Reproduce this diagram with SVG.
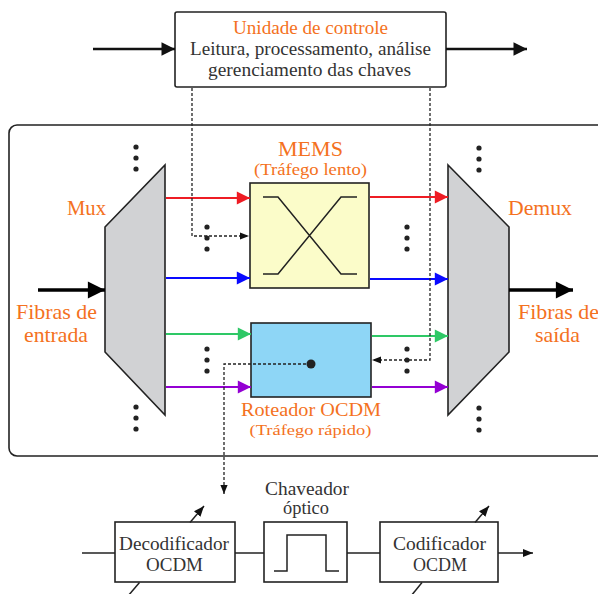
<svg xmlns="http://www.w3.org/2000/svg" width="598" height="594" viewBox="0 0 598 594" font-family="'Liberation Serif', 'DejaVu Serif', serif">
<defs>
<style>
text{font-family:'Liberation Serif','DejaVu Serif',serif;text-anchor:middle}
.or{fill:#f47121}
.dk{fill:#333}
.box{stroke:#222;stroke-width:1.6}
.dot{stroke:#222;stroke-width:1.3;stroke-dasharray:3,2;fill:none}
.ln{stroke:#222;stroke-width:1.5;fill:none}
</style>
<marker id="aBig" viewBox="0 0 10 10" refX="10" refY="5" markerWidth="6.2" markerHeight="4.9" markerUnits="strokeWidth" orient="auto"><path d="M0,0 L10,5 L0,10 z" fill="#000"/></marker>
<marker id="aTop" viewBox="0 0 10 10" refX="10" refY="5" markerWidth="6" markerHeight="5.2" markerUnits="strokeWidth" orient="auto"><path d="M0,0 L10,5 L0,10 z" fill="#111"/></marker>
<marker id="aR" viewBox="0 0 10 10" refX="10" refY="5" markerWidth="7" markerHeight="6" markerUnits="strokeWidth" orient="auto"><path d="M0,0 L10,5 L0,10 z" fill="#ee1c24"/></marker>
<marker id="aB" viewBox="0 0 10 10" refX="10" refY="5" markerWidth="7" markerHeight="6" markerUnits="strokeWidth" orient="auto"><path d="M0,0 L10,5 L0,10 z" fill="#0a0aff"/></marker>
<marker id="aG" viewBox="0 0 10 10" refX="10" refY="5" markerWidth="7" markerHeight="6" markerUnits="strokeWidth" orient="auto"><path d="M0,0 L10,5 L0,10 z" fill="#2ec866"/></marker>
<marker id="aP" viewBox="0 0 10 10" refX="10" refY="5" markerWidth="7" markerHeight="6" markerUnits="strokeWidth" orient="auto"><path d="M0,0 L10,5 L0,10 z" fill="#9400d3"/></marker>
<marker id="aS" viewBox="0 0 10 10" refX="10" refY="5" markerWidth="7" markerHeight="7" markerUnits="strokeWidth" orient="auto"><path d="M0,1 L10,5 L0,9 z" fill="#111"/></marker>
</defs>

<g id="container"><rect x="9" y="125" width="600" height="331" rx="8" fill="#fff" stroke="#222" stroke-width="1.6"/></g>

<g id="control">
<rect class="box" x="175" y="12" width="271" height="75" rx="2" fill="#fff"/>
<text class="or" x="310.5" y="34" font-size="18.5" textLength="155" lengthAdjust="spacingAndGlyphs">Unidade de controle</text>
<text class="dk" x="310.5" y="55" font-size="18.5" textLength="241" lengthAdjust="spacingAndGlyphs">Leitura, processamento, análise</text>
<text class="dk" x="309.5" y="76" font-size="18.5" textLength="203" lengthAdjust="spacingAndGlyphs">gerenciamento das chaves</text>
</g>

<g id="mux">
<polygon class="box" points="105,227 165,165 165,415 105,352" fill="#d1d2d4"/>
<text class="or" x="86.5" y="215" font-size="21" textLength="39" lengthAdjust="spacingAndGlyphs">Mux</text>
<g fill="#222"><circle cx="136" cy="147" r="2.6"/><circle cx="136" cy="158" r="2.6"/><circle cx="136" cy="169" r="2.6"/>
<circle cx="136" cy="407" r="2.6"/><circle cx="136" cy="418" r="2.6"/><circle cx="136" cy="429" r="2.6"/></g>
</g>

<g id="demux">
<polygon class="box" points="448,165 509,227 509,352 448,415" fill="#d1d2d4"/>
<text class="or" x="540" y="215" font-size="21" textLength="64" lengthAdjust="spacingAndGlyphs">Demux</text>
<g fill="#222"><circle cx="479" cy="148" r="2.6"/><circle cx="479" cy="159" r="2.6"/><circle cx="479" cy="170" r="2.6"/>
<circle cx="479" cy="408" r="2.6"/><circle cx="479" cy="419" r="2.6"/><circle cx="479" cy="430" r="2.6"/></g>
</g>

<g id="dots-mid" fill="#222">
<circle cx="207" cy="227" r="2.6"/><circle cx="207" cy="238" r="2.6"/><circle cx="207" cy="249" r="2.6"/>
<circle cx="407" cy="227" r="2.6"/><circle cx="407" cy="238" r="2.6"/><circle cx="407" cy="249" r="2.6"/>
<circle cx="207" cy="349" r="2.6"/><circle cx="207" cy="360" r="2.6"/><circle cx="207" cy="371" r="2.6"/>
<circle cx="407" cy="349" r="2.6"/><circle cx="407" cy="360" r="2.6"/><circle cx="407" cy="371" r="2.6"/>
</g>

<g id="mems">
<rect class="box" x="250" y="183" width="119" height="105" fill="#fbfcc9"/>
<path class="ln" d="M263,197 H278 L341,274 H357 M263,274 H278 L341,197 H357"/>
<text class="or" x="310.5" y="156" font-size="21" textLength="65" lengthAdjust="spacingAndGlyphs">MEMS</text>
<text class="or" x="310.5" y="175" font-size="16.5" textLength="113" lengthAdjust="spacingAndGlyphs">(Tráfego lento)</text>
</g>

<g id="roteador">
<rect class="box" x="251" y="323" width="120" height="74" fill="#8ed6f6"/>
<text class="or" x="311" y="416" font-size="18.5" textLength="140" lengthAdjust="spacingAndGlyphs">Roteador OCDM</text>
<text class="or" x="310.5" y="435" font-size="15.5" textLength="122" lengthAdjust="spacingAndGlyphs">(Tráfego rápido)</text>
</g>

<g id="fibras-entrada">
<text class="or" x="56.5" y="319" font-size="21.5" textLength="81" lengthAdjust="spacingAndGlyphs">Fibras de</text>
<text class="or" x="56" y="342" font-size="21.5" textLength="64" lengthAdjust="spacingAndGlyphs">entrada</text>
</g>
<g id="fibras-saida">
<text class="or" x="558.5" y="319" font-size="21.5" textLength="81" lengthAdjust="spacingAndGlyphs">Fibras de</text>
<text class="or" x="557.5" y="342" font-size="21.5" textLength="45" lengthAdjust="spacingAndGlyphs">saída</text>
</g>

<g id="decodificador">
<rect class="box" x="115" y="522" width="120" height="60" fill="#fff"/>
<text class="dk" x="174" y="550" font-size="18.5" textLength="110" lengthAdjust="spacingAndGlyphs">Decodificador</text>
<text class="dk" x="174.5" y="571" font-size="18.5" textLength="57" lengthAdjust="spacingAndGlyphs">OCDM</text>
</g>

<g id="chaveador">
<rect class="box" x="264" y="522" width="83" height="60" fill="#fff"/>
<path class="ln" stroke-width="1.8" d="M274,571 H287 V535 H326 V571 H339"/>
<text class="dk" x="307" y="495" font-size="18.5" textLength="84" lengthAdjust="spacingAndGlyphs">Chaveador</text>
<text class="dk" x="306" y="514" font-size="18.5" textLength="46" lengthAdjust="spacingAndGlyphs">óptico</text>
</g>

<g id="codificador">
<rect class="box" x="380" y="522" width="118" height="60" fill="#fff"/>
<text class="dk" x="439.5" y="550" font-size="18.5" textLength="93" lengthAdjust="spacingAndGlyphs">Codificador</text>
<text class="dk" x="440" y="571" font-size="18.5" textLength="54" lengthAdjust="spacingAndGlyphs">OCDM</text>
</g>

<g id="connectors">
<line x1="93" y1="49" x2="175" y2="49" stroke="#111" stroke-width="2.6" marker-end="url(#aTop)"/>
<line x1="446" y1="49" x2="527" y2="49" stroke="#111" stroke-width="2.6" marker-end="url(#aTop)"/>
<line x1="38" y1="290" x2="105" y2="290" stroke="#000" stroke-width="3.5" marker-end="url(#aBig)"/>
<line x1="509" y1="290" x2="573" y2="290" stroke="#000" stroke-width="3.5" marker-end="url(#aBig)"/>
<line x1="166" y1="198" x2="250" y2="198" stroke="#ee1c24" stroke-width="2.2" marker-end="url(#aR)"/>
<line x1="166" y1="278" x2="250" y2="278" stroke="#0a0aff" stroke-width="2.2" marker-end="url(#aB)"/>
<line x1="166" y1="334" x2="251" y2="334" stroke="#2ec866" stroke-width="2.2" marker-end="url(#aG)"/>
<line x1="166" y1="387" x2="251" y2="387" stroke="#9400d3" stroke-width="2.2" marker-end="url(#aP)"/>
<line x1="370" y1="197" x2="448" y2="197" stroke="#ee1c24" stroke-width="2.2" marker-end="url(#aR)"/>
<line x1="370" y1="279" x2="448" y2="279" stroke="#0a0aff" stroke-width="2.2" marker-end="url(#aB)"/>
<line x1="372" y1="336" x2="448" y2="336" stroke="#2ec866" stroke-width="2.2" marker-end="url(#aG)"/>
<line x1="372" y1="387" x2="448" y2="387" stroke="#9400d3" stroke-width="2.2" marker-end="url(#aP)"/>
<path class="dot" d="M192,88 V236 H249" marker-end="url(#aS)"/>
<path class="dot" d="M430,88 V360 H372" marker-end="url(#aS)"/>
<path class="dot" d="M311,364 H224 V494" marker-end="url(#aS)"/>
<circle cx="311" cy="364" r="4.5" fill="#222"/>
<line class="ln" x1="82" y1="553" x2="115" y2="553"/>
<line class="ln" x1="235" y1="553" x2="264" y2="553"/>
<line class="ln" x1="347" y1="553" x2="380" y2="553"/>
<line class="ln" x1="498" y1="553" x2="533" y2="553" marker-end="url(#aS)"/>
<line class="ln" x1="128" y1="596" x2="139.5" y2="582.5"/>
<line class="ln" x1="190" y1="522.5" x2="204" y2="506" marker-end="url(#aS)"/>
<line class="ln" x1="411" y1="596" x2="422" y2="582.5"/>
<line class="ln" x1="475" y1="522.5" x2="489" y2="506" marker-end="url(#aS)"/>
</g>
</svg>
